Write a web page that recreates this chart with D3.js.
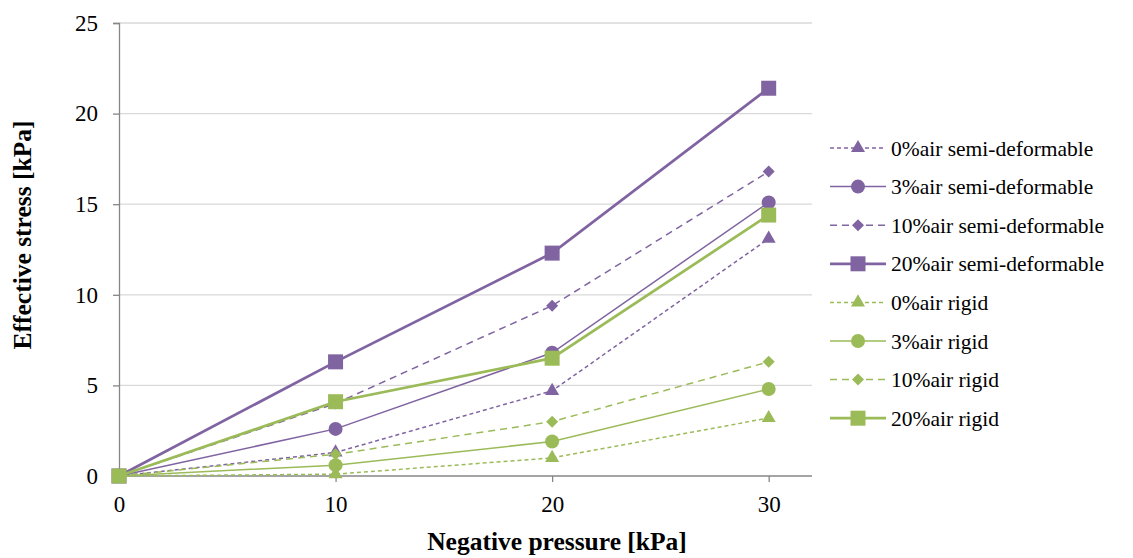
<!DOCTYPE html>
<html><head><meta charset="utf-8">
<script src="https://cdn.jsdelivr.net/npm/d3@7"></script>
<style>body{margin:0;background:#fff;} svg{display:block;font-family:"Liberation Serif","Times New Roman",serif;}</style>
</head><body><svg id="c" width="1133" height="558"></svg>
<script>
const xValues = [0, 10, 20, 30];
const seriesNames = ["0%air semi-deformable","3%air semi-deformable","10%air semi-deformable","20%air semi-deformable","0%air rigid","3%air rigid","10%air rigid","20%air rigid"];
const air0Semi  = [0, 1.3, 4.7, 13.1];
const air3Semi  = [0, 2.6, 6.8, 15.1];
const air10Semi = [0, 4.0, 9.4, 16.8];
const air20Semi = [0, 6.3, 12.3, 21.4];
const air0Rigid  = [0, 0.1, 1.0, 3.2];
const air3Rigid  = [0, 0.6, 1.9, 4.8];
const air10Rigid = [0, 1.2, 3.0, 6.3];
const air20Rigid = [0, 4.1, 6.5, 14.4];
const xTicks = [0, 10, 20, 30];
const yTicks = [0, 5, 10, 15, 20, 25];

const purple = "#8064A2", green = "#9BBB59";
const styles = [
  {c:purple, w:1.5, dash:"4,3", m:"tri"},
  {c:purple, w:1.5, dash:null, m:"circ"},
  {c:purple, w:1.5, dash:"7,5", m:"dia"},
  {c:purple, w:2.75, dash:null, m:"sq"},
  {c:green, w:1.5, dash:"4,3", m:"tri"},
  {c:green, w:1.5, dash:null, m:"circ"},
  {c:green, w:1.5, dash:"7,5", m:"dia"},
  {c:green, w:2.75, dash:null, m:"sq"}
];
const allSeries = [air0Semi, air3Semi, air10Semi, air20Semi, air0Rigid, air3Rigid, air10Rigid, air20Rigid];

const svg = d3.select("#c");
const x = d3.scaleLinear().domain([0, 32]).range([119, 812]);
const y = d3.scaleLinear().domain([0, 25]).range([476, 23]);

svg.append("g").selectAll("line").data(yTicks.filter(d=>d>0)).join("line")
  .attr("x1", x(0)).attr("x2", x(32)).attr("y1", d=>y(d)).attr("y2", d=>y(d))
  .attr("stroke", "#d9d9d9").attr("stroke-width", 1.3);

const yAxis = svg.append("g").attr("transform", `translate(${x(0)},0)`)
  .call(d3.axisLeft(y).tickValues(yTicks).tickSize(6).tickPadding(15).tickFormat(d3.format("d")));
const xAxis = svg.append("g").attr("transform", `translate(0,${y(0)})`)
  .call(d3.axisBottom(x).tickValues(xTicks).tickSize(6).tickPadding(14).tickFormat(d3.format("d")));
[yAxis, xAxis].forEach(a => {
  a.attr("font-family", null);
  a.select(".domain").attr("stroke", "#868686").attr("stroke-width", 1.3);
  a.selectAll(".tick line").attr("stroke", "#868686").attr("stroke-width", 1.3);
  a.selectAll("text").attr("font-size", 23).attr("fill", "#000");
});
xAxis.select(".domain").attr("d", `M${x(0)},0H${x(32)}`);

svg.append("text").attr("x", 557).attr("y", 550).attr("text-anchor", "middle")
  .attr("font-size", 25.5).attr("font-weight", "bold").text("Negative pressure [kPa]");
svg.append("text").attr("transform", "translate(31,235) rotate(-90)").attr("text-anchor", "middle")
  .attr("font-size", 25.5).attr("font-weight", "bold").text("Effective stress [kPa]");

function marker(g, type, color) {
  if (type === "circ") g.append("circle").attr("r", 7).attr("fill", color);
  else if (type === "sq") g.append("rect").attr("x", -7.5).attr("y", -7.5).attr("width", 15).attr("height", 15).attr("fill", color);
  else if (type === "tri") g.append("path").attr("d", d3.symbol(d3.symbolTriangle, 85)()).attr("fill", color);
  else if (type === "dia") g.append("path").attr("d", "M0,-6L6,0L0,6L-6,0Z").attr("fill", color);
}

const line = d3.line().x((d,i)=>x(xValues[i])).y(d=>y(d));
allSeries.forEach((vals, si) => {
  const s = styles[si];
  const g = svg.append("g");
  g.append("path").attr("d", line(vals)).attr("fill", "none").attr("stroke", s.c)
    .attr("stroke-width", s.w).attr("stroke-dasharray", s.dash);
  vals.forEach((v, i) => {
    const mg = g.append("g").attr("transform", `translate(${x(xValues[i])},${y(v)})`);
    marker(mg, s.m, s.c);
  });
});

const lg = svg.append("g");
seriesNames.forEach((name, i) => {
  const s = styles[i];
  const yy = 148 + i * 38.6;
  const row = lg.append("g").attr("transform", `translate(0,${yy})`);
  row.append("line").attr("x1", 830).attr("x2", 886).attr("y1", 0).attr("y2", 0)
    .attr("stroke", s.c).attr("stroke-width", s.w).attr("stroke-dasharray", s.dash);
  const mg = row.append("g").attr("transform", "translate(858,0)");
  marker(mg, s.m, s.c);
  row.append("text").attr("x", 891).attr("y", 7.5).attr("font-size", 21.5).attr("fill", "#000").text(name);
});
</script></body></html>
